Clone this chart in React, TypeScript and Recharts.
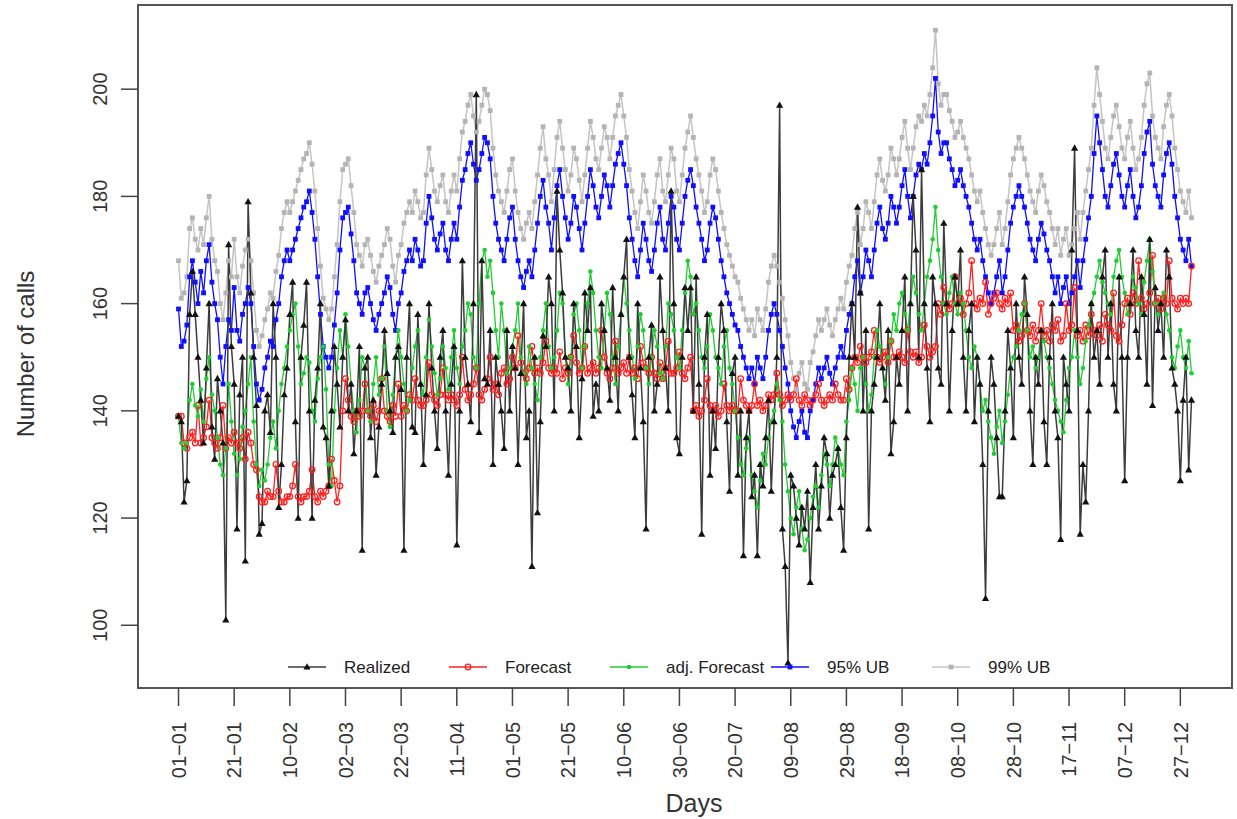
import { LineChart, Line, XAxis, YAxis, ReferenceArea } from "recharts";

// day index 0..364, one tick every 20 days
const tickDays = [0, 20, 40, 60, 80, 100, 120, 140, 160, 180, 200, 220, 240, 260, 280, 300, 320, 340, 360];
const tickLabels = [
  "01−01", "21−01", "10−02", "02−03", "22−03", "11−04", "01−05", "21−05", "10−06", "30−06",
  "20−07", "09−08", "29−08", "18−09", "08−10", "28−10", "17−11", "07−12", "27−12",
];
const yTicks = [100, 120, 140, 160, 180, 200];

const realized = [
  139, 138, 123, 127, 158, 166, 158, 150, 142, 134, 148, 160, 137, 131, 146, 140, 134, 101, 171, 152,
  145, 118, 143, 150, 112, 179, 162, 150, 141, 117, 119, 140, 143, 136, 160, 150, 122, 130, 143, 148,
  158, 164, 138, 120, 150, 156, 164, 140, 120, 142, 148, 160, 137, 135, 126, 140, 152, 145, 137, 150,
  157, 140, 145, 132, 140, 152, 114, 148, 150, 135, 142, 128, 137, 145, 155, 147, 140, 136, 150, 152,
  144, 114, 150, 160, 137, 136, 158, 145, 130, 143, 160, 148, 140, 133, 150, 155, 140, 128, 145, 152,
  115, 140, 168, 150, 145, 138, 160, 199, 136, 168, 146, 145, 155, 130, 150, 145, 140, 133, 155, 140,
  152, 148, 130, 147, 160, 135, 140, 111, 150, 121, 138, 154, 152, 165, 160, 140, 181, 170, 162, 150,
  148, 140, 160, 152, 135, 146, 162, 155, 163, 139, 145, 140, 160, 155, 148, 142, 163, 150, 140, 158,
  165, 172, 150, 143, 135, 160, 148, 138, 118, 150, 156, 140, 145, 165, 155, 148, 140, 181, 160, 135,
  132, 150, 163, 155, 163, 140, 165, 145, 117, 150, 158, 128, 140, 133, 150, 160, 155, 138, 125, 147,
  150, 128, 140, 113, 135, 140, 124, 128, 113, 130, 126, 135, 142, 125, 138, 150, 197, 118, 111, 93,
  128, 126, 120, 115, 122, 118, 125, 108, 122, 130, 118, 126, 135, 132, 120, 128, 130, 133, 122, 114,
  135, 150, 160, 150, 178, 162, 140, 155, 118, 140, 145, 150, 160, 148, 142, 155, 132, 138, 150, 145,
  155, 165, 140, 160, 180, 170, 150, 185, 160, 148, 138, 165, 160, 148, 145, 175, 160, 140, 155, 165,
  160, 170, 150, 140, 155, 160, 138, 150, 145, 130, 105, 140, 150, 145, 135, 124, 124, 140, 155, 148,
  135, 160, 150, 145, 165, 158, 140, 130, 150, 145, 155, 138, 130, 150, 160, 140, 135, 116, 150, 145,
  140, 170, 189, 155, 117, 130, 123, 140, 160, 150, 155, 145, 165, 170, 150, 160, 145, 140, 165, 150,
  127, 150, 160, 170, 155, 150, 165, 158, 145, 172, 141, 163, 155, 160, 150, 170, 165, 148, 145, 140,
  127, 142, 150, 129, 142,
];

const forecast = [
  139, 139, 134, 133, 135, 136, 134, 141, 134, 135, 137, 142, 135, 134, 133, 135, 141, 133, 135, 134,
  136, 134, 133, 135, 131, 136, 134, 130, 129, 124, 123, 123, 125, 124, 124, 130, 125, 123, 123, 124,
  124, 126, 130, 124, 123, 124, 124, 125, 129, 124, 123, 125, 124, 125, 126, 131, 127, 123, 126, 140,
  146, 142, 139, 138, 140, 139, 140, 145, 140, 139, 141, 138, 140, 146, 140, 139, 138, 141, 139, 145,
  139, 141, 140, 143, 142, 146, 142, 141, 141, 142, 149, 143, 142, 141, 143, 148, 143, 142, 143, 142,
  141, 143, 150, 144, 142, 143, 145, 148, 143, 142, 144, 146, 150, 144, 145, 143, 147, 148, 145, 146,
  150, 148, 154, 149, 147, 146, 148, 152, 147, 148, 147, 149, 153, 148, 147, 148, 147, 151, 146, 148,
  147, 150, 154, 149, 147, 148, 152, 147, 148, 149, 147, 148, 155, 150, 147, 146, 148, 153, 147, 148,
  149, 147, 150, 147, 148, 146, 152, 149, 148, 147, 150, 147, 146, 149, 146, 148, 153, 147, 147, 148,
  151, 147, 146, 148, 150, 140, 141, 139, 140, 142, 146, 141, 140, 141, 139, 140, 145, 141, 140, 141,
  140, 140, 146, 142, 141, 140, 141, 145, 141, 142, 140, 141, 143, 142, 143, 147, 143, 141, 142, 143,
  142, 143, 146, 142, 141, 143, 142, 141, 142, 143, 145, 142, 141, 142, 143, 142, 145, 143, 142, 142,
  146, 144, 148, 150, 149, 152, 150, 149, 150, 151, 155, 150, 149, 150, 151, 149, 153, 150, 150, 151,
  150, 149, 155, 151, 150, 151, 149, 150, 156, 152, 150, 151, 152, 160, 158, 163, 160, 159, 160, 165,
  160, 161, 158, 160, 162, 168, 160, 159, 161, 160, 164, 158, 160, 161, 162, 160, 159, 161, 160, 162,
  155, 156, 153, 154, 160, 155, 154, 156, 153, 155, 160, 154, 155, 153, 156, 155, 157, 153, 154, 160,
  155, 156, 163, 154, 155, 153, 156, 154, 158, 155, 154, 156, 153, 158, 156, 155, 162, 154, 153, 156,
  160, 161, 158, 162, 160, 168, 161, 159, 160, 162, 169, 160, 161, 159, 161, 160, 168, 161, 160, 159,
  161, 160, 161, 160, 167,
];

const adjForecast = [
  139, 134, 133, 134, 142, 145, 141, 139, 144, 138, 146, 150, 143, 140, 135, 130, 128, 133, 145, 138,
  132, 128, 131, 137, 140, 145, 150, 138, 130, 126, 129, 127, 130, 135, 138, 133, 140, 145, 148, 152,
  155, 158, 160, 152, 145, 147, 150, 149, 140, 138, 146, 150, 152, 144, 130, 126, 140, 148, 155, 150,
  158, 152, 145, 140, 136, 142, 150, 148, 140, 138, 145, 150, 143, 146, 152, 140, 137, 143, 150, 155,
  150, 145, 140, 142, 148, 152, 155, 145, 143, 150, 157, 152, 147, 143, 146, 152, 148, 144, 150, 155,
  148, 145, 152, 155, 160, 158, 150, 148, 160, 168, 170, 165, 168, 162, 155, 150, 160, 155, 147, 148,
  152, 155, 160, 150, 147, 145, 152, 148, 145, 142, 150, 155, 160, 152, 148, 150, 155, 162, 160, 150,
  145, 150, 158, 160, 155, 148, 152, 160, 166, 162, 155, 150, 148, 155, 162, 158, 150, 145, 152, 158,
  165, 160, 155, 150, 146, 152, 158, 155, 148, 145, 150, 155, 152, 147, 146, 152, 160, 158, 155, 150,
  148, 155, 162, 168, 165, 158, 160, 155, 150, 148, 152, 158, 155, 150, 148, 145, 152, 155, 148, 145,
  140, 135, 130, 128, 133, 135, 128, 125, 122, 127, 132, 130, 135, 138, 140, 145, 142, 138, 130, 125,
  120, 117, 122, 125, 118, 114, 116, 120, 124, 126, 122, 128, 132, 130, 126, 130, 135, 133, 130, 128,
  138, 142, 148, 145, 140, 148, 150, 145, 140, 143, 150, 155, 152, 148, 145, 150, 153, 158, 155, 160,
  162, 158, 155, 160, 165, 162, 158, 155, 160, 165, 168, 172, 178, 170, 165, 160, 158, 162, 165, 160,
  158, 162, 160, 155, 150, 148, 152, 150, 145, 140, 142, 138, 135, 132, 137, 140, 134, 138, 143, 148,
  150, 152, 155, 158, 160, 155, 150, 152, 148, 150, 155, 153, 150, 148, 145, 142, 140, 138, 136, 142,
  148, 150, 155, 150, 145, 148, 153, 156, 160, 162, 165, 168, 164, 162, 160, 158, 165, 168, 170, 165,
  162, 158, 160, 165, 163, 160, 158, 164, 168, 172, 166, 160, 158, 160, 162, 158, 155, 150, 148, 152,
  155, 150, 148, 153, 147,
];

const ub95 = [
  159, 152, 153, 156, 165, 168, 164, 160, 166, 162, 168, 171, 164, 160, 157, 150, 145, 152, 157, 155,
  163, 155, 153, 158, 160, 163, 160, 152, 145, 142, 144, 148, 150, 153, 152, 157, 160, 165, 168, 170,
  168, 170, 172, 174, 176, 178, 179, 181, 177, 172, 165, 158, 152, 150, 148, 150, 156, 162, 170, 176,
  177, 178, 173, 168, 162, 160, 158, 162, 163, 160, 157, 155, 158, 160, 162, 165, 163, 158, 155, 160,
  162, 166, 168, 170, 168, 172, 170, 167, 168, 175, 180, 176, 172, 170, 173, 175, 170, 168, 172, 175,
  172, 178, 183, 185, 188, 190, 186, 183, 185, 188, 191, 190, 187, 180, 175, 172, 170, 168, 172, 176,
  178, 172, 168, 165, 163, 166, 168, 165, 170, 175, 180, 183, 178, 175, 170, 176, 182, 185, 180, 176,
  172, 175, 180, 178, 174, 170, 175, 180, 185, 182, 178, 176, 180, 184, 182, 178, 182, 186, 188, 190,
  186, 182, 176, 172, 168, 165, 170, 175, 172, 168, 166, 170, 175, 178, 172, 170, 175, 180, 178, 172,
  170, 175, 180, 183, 185, 182, 178, 175, 172, 168, 170, 175, 178, 176, 172, 168, 165, 162, 160, 158,
  156, 155, 152, 150, 148, 146, 148, 145, 150, 148, 146, 150, 155, 158, 160, 158, 155, 152, 148, 145,
  140, 137, 135, 138, 140, 136, 135, 140, 142, 145, 148, 146, 148, 150, 147, 145, 148, 150, 152, 150,
  155, 158, 160, 165, 168, 162, 165, 170, 168, 165, 170, 175, 178, 174, 172, 175, 180, 178, 175, 178,
  182, 185, 180, 176, 180, 184, 186, 185, 188, 186, 190, 195, 202, 192, 188, 190, 190, 187, 185, 182,
  183, 185, 182, 180, 178, 175, 172, 170, 172, 168, 165, 162, 160, 162, 165, 168, 162, 165, 170, 175,
  178, 180, 182, 180, 178, 175, 172, 170, 168, 172, 175, 173, 170, 168, 165, 162, 165, 160, 163, 165,
  160, 162, 165, 168, 163, 168, 172, 176, 180, 188, 195, 190, 185, 180, 178, 182, 186, 188, 184, 180,
  178, 182, 185, 180, 176, 178, 182, 188, 192, 194, 186, 182, 180, 178, 184, 188, 190, 186, 180, 176,
  172, 170, 168, 172, 167,
];

const ub99 = [
  168, 161, 162, 165, 174, 176, 172, 170, 174, 171, 176, 180, 172, 168, 166, 160, 157, 162, 168, 165,
  172, 165, 162, 167, 170, 172, 168, 162, 155, 152, 154, 157, 159, 162, 161, 166, 169, 174, 177, 179,
  177, 179, 181, 183, 185, 187, 188, 190, 186, 181, 174, 167, 161, 159, 157, 159, 165, 171, 179, 185,
  186, 187, 182, 177, 171, 169, 167, 171, 172, 169, 166, 164, 167, 169, 171, 174, 172, 167, 164, 169,
  171, 175, 177, 179, 177, 181, 179, 176, 177, 184, 189, 185, 181, 179, 182, 184, 179, 177, 181, 184,
  181, 187, 192, 194, 197, 199, 195, 192, 194, 197, 200, 199, 196, 189, 184, 181, 179, 177, 181, 185,
  187, 181, 177, 174, 172, 175, 177, 174, 179, 184, 189, 193, 187, 184, 179, 185, 191, 194, 189, 185,
  181, 184, 189, 187, 183, 179, 184, 189, 194, 191, 187, 185, 189, 193, 191, 187, 191, 195, 197, 199,
  195, 191, 185, 181, 177, 174, 179, 184, 181, 177, 175, 179, 184, 187, 181, 179, 184, 189, 187, 181,
  179, 184, 189, 192, 195, 191, 187, 184, 181, 177, 179, 184, 187, 185, 181, 177, 174, 171, 169, 167,
  165, 164, 161, 159, 157, 155, 157, 154, 159, 157, 155, 159, 164, 167, 169, 167, 164, 161, 157, 154,
  149, 146, 144, 147, 149, 145, 144, 149, 151, 154, 157, 155, 157, 159, 156, 154, 157, 159, 161, 159,
  164, 167, 169, 174, 177, 171, 174, 179, 177, 174, 179, 184, 187, 183, 181, 184, 189, 187, 184, 187,
  191, 194, 189, 185, 189, 193, 195, 194, 197, 195, 199, 204, 211, 201, 197, 199, 199, 196, 194, 191,
  192, 194, 191, 189, 187, 184, 181, 179, 181, 177, 174, 171, 169, 171, 174, 177, 171, 174, 179, 184,
  187, 189, 191, 189, 187, 184, 181, 179, 177, 181, 184, 182, 179, 177, 174, 171, 174, 169, 172, 174,
  169, 171, 174, 177, 172, 177, 181, 185, 189, 197, 204, 199, 194, 189, 187, 191, 195, 197, 193, 189,
  187, 191, 194, 189, 185, 187, 191, 197, 201, 203, 195, 191, 189, 187, 193, 197, 199, 195, 189, 185,
  181, 179, 177, 181, 176,
];

const data = realized.map((v, i) => ({
  day: i,
  realized: v,
  forecast: forecast[i],
  adj: adjForecast[i],
  ub95: ub95[i],
  ub99: ub99[i],
}));

const FONT = "'Liberation Sans', Arial, Helvetica, sans-serif";
const C_REAL = "#3c3c3c";
const C_REAL_PT = "#111111";
const C_FC = "#ff2020";
const C_ADJ = "#22cc33";
const C_95 = "#1010ff";
const C_99 = "#c4c4c4";
const C_99_PT = "#b4b4b4";

const X_DOMAIN: [number, number] = [-14.56, 378.56];
const Y_DOMAIN: [number, number] = [88.3, 215.7];

// point markers (R pch 17, 1, 20, 15)
const triangle = (color: string) => (p: any) => (
  <path
    key={`t${p.index}`}
    d={`M${p.cx},${p.cy - 3.8}L${p.cx + 3.6},${p.cy + 2.6}L${p.cx - 3.6},${p.cy + 2.6}Z`}
    fill={color}
  />
);
const ring = (color: string) => (p: any) => (
  <circle key={`r${p.index}`} cx={p.cx} cy={p.cy} r={2.8} fill="none" stroke={color} strokeWidth={1.3} />
);
const dot = (color: string) => (p: any) => (
  <circle key={`d${p.index}`} cx={p.cx} cy={p.cy} r={2.3} fill={color} />
);
const square = (color: string) => (p: any) => (
  <rect key={`s${p.index}`} x={p.cx - 2.4} y={p.cy - 2.4} width={4.8} height={4.8} fill={color} />
);

function XTick({ x, payload }: any) {
  const label = tickLabels[tickDays.indexOf(payload.value)];
  return (
    <text
      transform={`translate(${x},722) rotate(-90)`}
      textAnchor="end"
      dy="0.36em"
      fontFamily={FONT}
      fontSize={20}
      fill="#333"
    >
      {label}
    </text>
  );
}

function YTick({ y, payload }: any) {
  return (
    <text
      transform={`translate(100,${y}) rotate(-90)`}
      textAnchor="middle"
      dy="0.36em"
      fontFamily={FONT}
      fontSize={20}
      fill="#333"
    >
      {payload.value}
    </text>
  );
}

const legendItems = [
  { name: "Realized", color: C_REAL, pt: C_REAL_PT, mark: "tri" },
  { name: "Forecast", color: C_FC, pt: C_FC, mark: "ring" },
  { name: "adj. Forecast", color: C_ADJ, pt: C_ADJ, mark: "dot" },
  { name: "95% UB", color: C_95, pt: C_95, mark: "sq" },
  { name: "99% UB", color: C_99, pt: C_99_PT, mark: "sq" },
];

function LegendOverlay() {
  const y = 667;
  return (
    <svg width={1237} height={819} style={{ position: "absolute", left: 0, top: 0, pointerEvents: "none" }}>
      {legendItems.map((it, i) => {
        const sx = 288 + i * 161;
        const cx = sx + 19;
        return (
          <g key={it.name}>
            <line x1={sx} x2={sx + 38} y1={y} y2={y} stroke={it.color} strokeWidth={1.6} />
            {it.mark === "tri" && triangle(it.pt)({ cx, cy: y, index: i })}
            {it.mark === "ring" && ring(it.pt)({ cx, cy: y, index: i })}
            {it.mark === "dot" && dot(it.pt)({ cx, cy: y, index: i })}
            {it.mark === "sq" && square(it.pt)({ cx, cy: y, index: i })}
            <text x={sx + 56} y={y} dy="0.36em" fontFamily={FONT} fontSize={17} fill="#222">
              {it.name}
            </text>
          </g>
        );
      })}
      <text x={694} y={803} dy="0.36em" textAnchor="middle" fontFamily={FONT} fontSize={25} fill="#333">
        Days
      </text>
      <text
        transform="translate(25,354) rotate(-90)"
        textAnchor="middle"
        dy="0.36em"
        fontFamily={FONT}
        fontSize={24}
        fill="#333"
      >
        Number of calls
      </text>
    </svg>
  );
}

export default function App() {
  return (
    <div style={{ position: "absolute", left: 0, top: 0, width: 1237, height: 819, background: "#fff" }}>
      <LineChart width={1237} height={819} data={data} margin={{ top: 5, right: 5, bottom: 0, left: 0 }}>
        <XAxis
          dataKey="day"
          type="number"
          domain={X_DOMAIN}
          allowDataOverflow
          ticks={tickDays}
          interval={0}
          height={131}
          axisLine={false}
          tickSize={18}
          tickLine={{ stroke: "#444", strokeWidth: 1.5 }}
          tick={<XTick />}
        />
        <YAxis
          type="number"
          domain={Y_DOMAIN}
          allowDataOverflow
          ticks={yTicks}
          width={138}
          axisLine={false}
          tickSize={17}
          tickLine={{ stroke: "#444", strokeWidth: 1.5 }}
          tick={<YTick />}
        />
        <ReferenceArea
          x1={X_DOMAIN[0]}
          x2={X_DOMAIN[1]}
          y1={Y_DOMAIN[0]}
          y2={Y_DOMAIN[1]}
          fill="none"
          stroke="#555"
          strokeWidth={2}
          ifOverflow="visible"
        />
        <Line dataKey="ub99" stroke={C_99} strokeWidth={1.5} dot={square(C_99_PT)} isAnimationActive={false} />
        <Line dataKey="ub95" stroke={C_95} strokeWidth={1.3} dot={square(C_95)} isAnimationActive={false} />
        <Line dataKey="forecast" stroke={C_FC} strokeWidth={1.3} dot={ring(C_FC)} isAnimationActive={false} />
        <Line dataKey="adj" stroke={C_ADJ} strokeWidth={1.3} dot={dot(C_ADJ)} isAnimationActive={false} />
        <Line dataKey="realized" stroke={C_REAL} strokeWidth={1.5} dot={triangle(C_REAL_PT)} isAnimationActive={false} />
      </LineChart>
      <LegendOverlay />
    </div>
  );
}
